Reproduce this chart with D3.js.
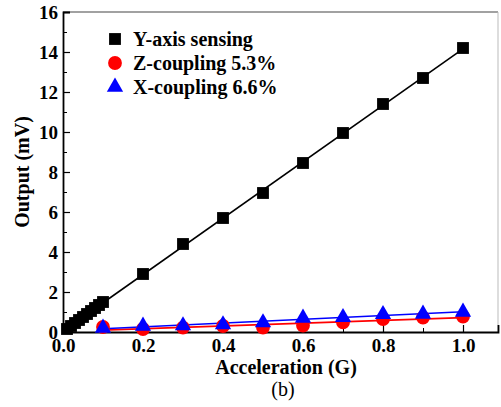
<!DOCTYPE html>
<html>
<head>
<meta charset="utf-8">
<script src="https://cdn.jsdelivr.net/npm/d3@7"></script>
<style>
  body { margin: 0; background: #fff; }
</style>
</head>
<body>
<div id="chart"></div>
<script>
const yAccel = [0.01, 0.02, 0.03, 0.04, 0.05, 0.06, 0.07, 0.08, 0.09, 0.1, 0.2, 0.3, 0.4, 0.5, 0.6, 0.7, 0.8, 0.9, 1.0];
const ySensing = [0.15, 0.3, 0.45, 0.6, 0.75, 0.9, 1.05, 1.2, 1.35, 1.5, 2.9, 4.4, 5.7, 6.95, 8.45, 9.95, 11.4, 12.7, 14.2];
const cAccel = [0.1, 0.2, 0.3, 0.4, 0.5, 0.6, 0.7, 0.8, 0.9, 1.0];
const zCoupling = [0.25, 0.15, 0.22, 0.3, 0.22, 0.32, 0.48, 0.65, 0.72, 0.77];
const xCoupling = [0.2, 0.3, 0.32, 0.37, 0.47, 0.7, 0.73, 0.88, 0.9, 1.0];
const xTicks = [0, 0.2, 0.4, 0.6, 0.8, 1.0];
const yTicks = [0, 2, 4, 6, 8, 10, 12, 14, 16];
const legendLabels = ["Y-axis sensing", "Z-coupling 5.3%", "X-coupling 6.6%"];

const FONT = "Liberation Serif";

const svg = d3.select("#chart").append("svg").attr("width", 501).attr("height", 407);
const margin = { top: 12, right: 3, bottom: 75, left: 63 };
const width = 501 - margin.left - margin.right;
const height = 407 - margin.top - margin.bottom;
const g = svg.append("g").attr("transform", `translate(${margin.left},${margin.top})`);

const x = d3.scaleLinear().domain([0, 1.0875]).range([0, width]);
const y = d3.scaleLinear().domain([0, 16]).range([height, 0]);

// frame
g.append("line").attr("x1", 0).attr("x2", width).attr("y1", 0).attr("y2", 0)
  .attr("stroke", "#444").attr("stroke-width", 1.2);
g.append("line").attr("x1", width).attr("x2", width).attr("y1", 0).attr("y2", height)
  .attr("stroke", "#bbb").attr("stroke-width", 1);

// axes with inward ticks
const xMinor = d3.range(0.1, 1.05, 0.2);
const yMinor = d3.range(1, 16, 2);
g.append("g").attr("transform", `translate(0,${height})`)
  .call(d3.axisBottom(x).tickValues(xMinor).tickSize(-4).tickFormat(""))
  .call(a => a.select(".domain").remove());
g.append("g").call(d3.axisLeft(y).tickValues(yMinor).tickSize(-4).tickFormat(""))
  .call(a => a.select(".domain").remove());

const xAxis = g.append("g").attr("transform", `translate(0,${height})`)
  .call(d3.axisBottom(x).tickValues(xTicks).tickSize(-7).tickPadding(8).tickFormat(d3.format(".1f")));
const yAxis = g.append("g")
  .call(d3.axisLeft(y).tickValues(yTicks).tickSize(-7).tickPadding(5).tickFormat(d3.format("d")));
[xAxis, yAxis].forEach(a => {
  a.attr("font-family", FONT).attr("font-size", 19).attr("font-weight", "bold");
  a.select(".domain").attr("stroke-width", 1.8);
  a.selectAll("line").attr("stroke-width", 1.2);
  a.selectAll("text").attr("fill", "#000");
});
xAxis.selectAll("text").attr("dy", "0.63em");

// fit lines
const fit = (xs, ys) => {
  const mx = d3.mean(xs), my = d3.mean(ys);
  const b = d3.sum(xs, (v, i) => (v - mx) * (ys[i] - my)) / d3.sum(xs, v => (v - mx) * (v - mx));
  return [b, my - b * mx];
};
const drawFit = (xs, ys, x0, x1, color) => {
  const [b, a] = fit(xs, ys);
  g.append("line")
    .attr("x1", x(x0)).attr("y1", y(a + b * x0))
    .attr("x2", x(x1)).attr("y2", y(a + b * x1))
    .attr("stroke", color).attr("stroke-width", 1.6);
};
drawFit(yAccel, ySensing, 0, 1.0, "#000");
drawFit(cAccel, zCoupling, 0.1, 1.0, "#ff0000");
drawFit(cAccel, xCoupling, 0.1, 1.0, "#0000ff");

// markers
const sq = d3.symbol().type(d3.symbolSquare).size(140);
const circ = d3.symbol().type(d3.symbolCircle).size(150);
const tri = d3.symbol().type(d3.symbolTriangle).size(115);

g.selectAll(".sq").data(yAccel).enter().append("path")
  .attr("d", sq).attr("fill", "#000")
  .attr("transform", (d, i) => `translate(${x(d)},${y(ySensing[i])})`);
g.selectAll(".circ").data(cAccel).enter().append("path")
  .attr("d", circ).attr("fill", "#ff0000")
  .attr("transform", (d, i) => `translate(${x(d)},${y(zCoupling[i])})`);
g.selectAll(".tri").data(cAccel).enter().append("path")
  .attr("d", tri).attr("fill", "#0000ff")
  .attr("transform", (d, i) => `translate(${x(d)},${y(xCoupling[i])})`);

// legend
const legend = svg.append("g").attr("transform", "translate(115,39)");
const legendSyms = [[sq, "#000"], [circ, "#ff0000"], [tri, "#0000ff"]];
legendLabels.forEach((t, i) => {
  const row = legend.append("g").attr("transform", `translate(0,${i * 24})`);
  row.append("path").attr("d", legendSyms[i][0]).attr("fill", legendSyms[i][1]);
  row.append("text").attr("x", 18).attr("y", 6.5)
    .attr("font-family", FONT).attr("font-size", 20).attr("font-weight", "bold").text(t);
});

// titles
svg.append("text")
  .attr("x", 286).attr("y", 374).attr("text-anchor", "middle")
  .attr("font-family", FONT).attr("font-size", 20).attr("font-weight", "bold").text("Acceleration (G)");
svg.append("text")
  .attr("transform", "translate(29,172) rotate(-90)").attr("text-anchor", "middle")
  .attr("font-family", FONT).attr("font-size", 20).attr("font-weight", "bold").text("Output (mV)");
svg.append("text")
  .attr("x", 283).attr("y", 396).attr("text-anchor", "middle")
  .attr("font-family", FONT).attr("font-size", 20).text("(b)");
</script>
</body>
</html>
